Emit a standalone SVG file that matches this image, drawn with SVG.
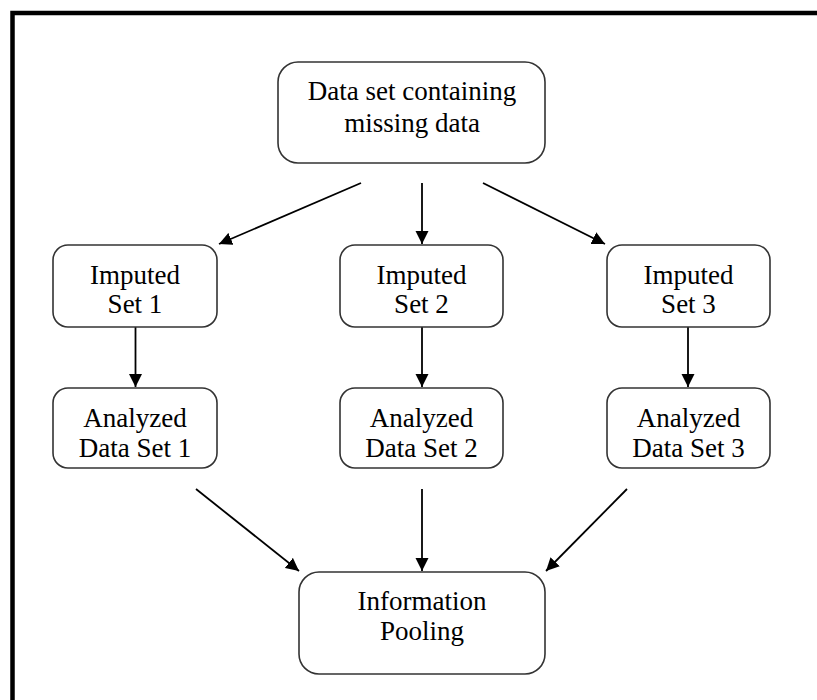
<svg xmlns="http://www.w3.org/2000/svg" width="817" height="700" viewBox="0 0 817 700">
<defs>
<style>
.box{fill:#fff;stroke:#333;stroke-width:1.6}
.t{font-family:"Liberation Serif","Times New Roman",serif;font-size:27px;fill:#000;text-anchor:middle}
.c{stroke:#000;stroke-width:1.8;fill:none;marker-end:url(#ah)}
</style>
<marker id="ah" markerUnits="userSpaceOnUse" markerWidth="14" markerHeight="14" viewBox="0 0 14 14" refX="13" refY="7" orient="auto">
<path d="M0,0.5 L13,7 L0,13.5 Z" fill="#000"/>
</marker>
</defs>
<rect width="817" height="700" fill="#fff"/>
<rect x="12.5" y="13" width="820" height="700" fill="none" stroke="#000" stroke-width="4.5"/>
<g id="connectors">
<line class="c" x1="361" y1="183" x2="219" y2="244"/>
<line class="c" x1="422" y1="183" x2="422" y2="244"/>
<line class="c" x1="483" y1="183" x2="605" y2="244"/>
<line class="c" x1="135.5" y1="327" x2="135.5" y2="387"/>
<line class="c" x1="422" y1="327" x2="422" y2="387"/>
<line class="c" x1="688" y1="327" x2="688" y2="387"/>
<line class="c" x1="196" y1="489" x2="299" y2="571"/>
<line class="c" x1="422" y1="489" x2="422" y2="571"/>
<line class="c" x1="627" y1="489" x2="546" y2="571"/>
</g>
<g id="top">
<rect class="box" x="278" y="62" width="267" height="101" rx="20"/>
<text class="t" x="412" y="100">Data set containing</text>
<text class="t" x="412" y="132">missing data</text>
</g>
<g id="imp1">
<rect class="box" x="53" y="245" width="164" height="82" rx="15"/>
<text class="t" x="135" y="284">Imputed</text>
<text class="t" x="135" y="313">Set 1</text>
</g>
<g id="imp2">
<rect class="box" x="340" y="245" width="163" height="82" rx="15"/>
<text class="t" x="421.5" y="284">Imputed</text>
<text class="t" x="421.5" y="313">Set 2</text>
</g>
<g id="imp3">
<rect class="box" x="607" y="245" width="163" height="82" rx="15"/>
<text class="t" x="688.5" y="284">Imputed</text>
<text class="t" x="688.5" y="313">Set 3</text>
</g>
<g id="ana1">
<rect class="box" x="53" y="388" width="164" height="80" rx="15"/>
<text class="t" x="135" y="427">Analyzed</text>
<text class="t" x="135" y="457">Data Set 1</text>
</g>
<g id="ana2">
<rect class="box" x="340" y="388" width="163" height="80" rx="15"/>
<text class="t" x="421.5" y="427">Analyzed</text>
<text class="t" x="421.5" y="457">Data Set 2</text>
</g>
<g id="ana3">
<rect class="box" x="607" y="388" width="163" height="80" rx="15"/>
<text class="t" x="688.5" y="427">Analyzed</text>
<text class="t" x="688.5" y="457">Data Set 3</text>
</g>
<g id="pool">
<rect class="box" x="299" y="572" width="246" height="102" rx="20"/>
<text class="t" x="422" y="610">Information</text>
<text class="t" x="422" y="640">Pooling</text>
</g>
</svg>
